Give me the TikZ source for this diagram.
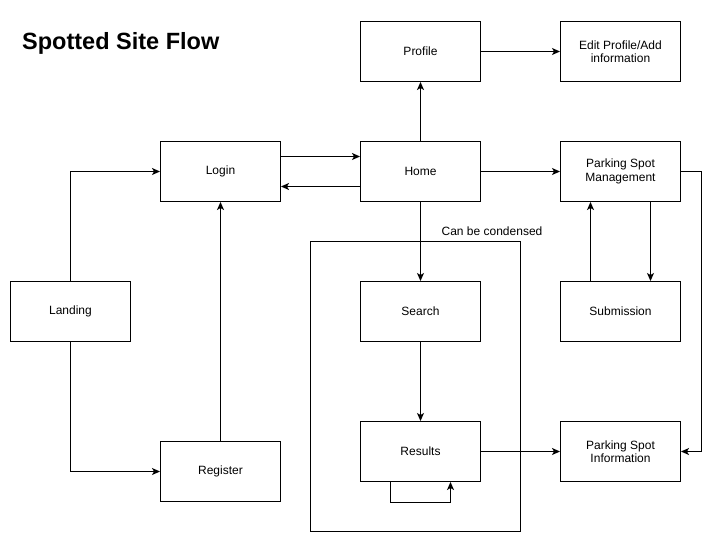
\documentclass[tikz,border=0pt]{standalone}
\usepackage{fontspec}
\setmainfont{Liberation Sans}
\usetikzlibrary{arrows.meta}
\begin{document}
\begin{tikzpicture}[x=1pt,y=-1pt,
  box/.style={draw,line width=1pt,minimum width=120pt,minimum height=60pt,inner sep=2pt,align=center,font=\fontsize{12}{13.5}\selectfont,anchor=north west},
  conn/.style={line width=1pt,-{Stealth[length=8pt,width=7pt,inset=2pt]}}]
\useasboundingbox (0,0) rectangle (720,542);
\node[anchor=west,font=\bfseries\fontsize{23.5}{28}\selectfont,inner sep=0pt] (title) at (22,43) {Spotted Site Flow};
\draw[line width=1pt] (310,241) rectangle (520,531);
\node[anchor=south,font=\fontsize{12}{13.5}\selectfont,inner sep=1pt] (cbc) at (492,237) {Can be condensed};
\node[box] (landing) at (10,281) {Landing};
\node[box] (login) at (160,141) {Login};
\node[box] (register) at (160,441) {Register};
\node[box] (home) at (360,141) {Home};
\node[box] (profile) at (360,21) {Profile};
\node[box] (edit) at (560,21) {Edit Profile/Add\\information};
\node[box] (mgmt) at (560,141) {Parking Spot\\Management};
\node[box] (sub) at (560,281) {Submission};
\node[box] (search) at (360,281) {Search};
\node[box] (results) at (360,421) {Results};
\node[box] (info) at (560,421) {Parking Spot\\Information};
\draw[conn] ([yshift=15pt]login.east) -- ([yshift=15pt]home.west);
\draw[conn] ([yshift=-15pt]home.west) -- ([yshift=-15pt]login.east);
\draw[conn] (home.north) -- (profile.south);
\draw[conn] (profile.east) -- (edit.west);
\draw[conn] (home.east) -- (mgmt.west);
\draw[conn] (home.south) -- (search.north);
\draw[conn] (search.south) -- (results.north);
\draw[conn] (results.east) -- (info.west);
\draw[conn] ([xshift=30pt]mgmt.south) -- ([xshift=30pt]sub.north);
\draw[conn] ([xshift=-30pt]sub.north) -- ([xshift=-30pt]mgmt.south);
\draw[conn] (mgmt.east) -- ++(20,0) |- (info.east);
\draw[conn] (landing.north) |- (login.west);
\draw[conn] (landing.south) |- (register.west);
\draw[conn] (register.north) -- (login.south);
\draw[conn] ([xshift=-30pt]results.south) -- ++(0,20) -| ([xshift=30pt]results.south);
\end{tikzpicture}
\end{document}
